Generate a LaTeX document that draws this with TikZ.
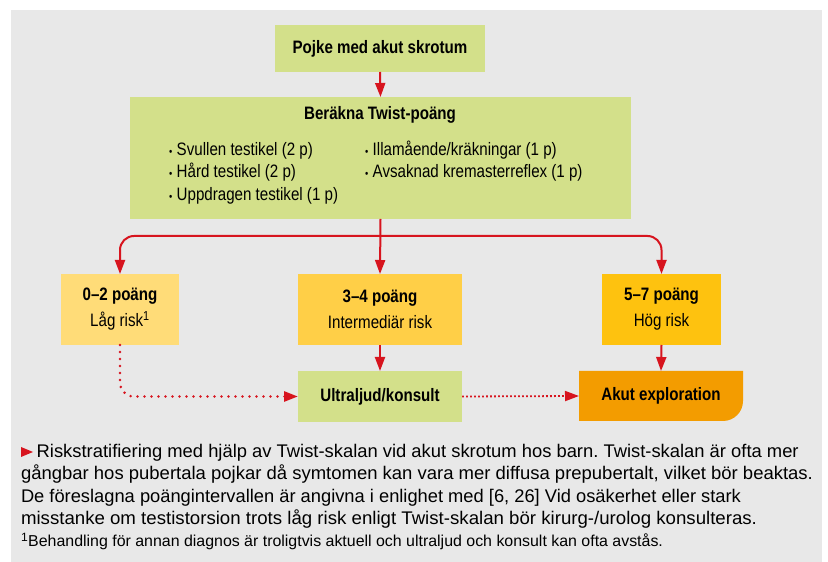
\documentclass[tikz,border=0pt]{standalone}
\usepackage{graphicx}
\usepackage{fontspec}
\setmainfont{Liberation Sans}[FakeStretch=0.84]
\newfontfamily\capfont{Liberation Sans}
\usetikzlibrary{arrows.meta,calc}
\definecolor{bg}{HTML}{E8E8E8}
\definecolor{grn}{HTML}{D3E08A}
\definecolor{yA}{HTML}{FFDC78}
\definecolor{yB}{HTML}{FFCF47}
\definecolor{yC}{HTML}{FEC20F}
\definecolor{org}{HTML}{F39C00}
\definecolor{rd}{HTML}{D7141E}
\newcommand{\bp}{\raisebox{0.5pt}{\fontsize{11}{11}\selectfont\textbullet}\hspace{4.5pt}}
\newcommand{\capline}[2]{\resizebox{#1}{\height}{\frenchspacing #2}}
\begin{document}
\begin{tikzpicture}[x=1pt,y=1pt,
  boxs/.style={inner sep=0pt, outer sep=0pt, align=center, font=\fontsize{18}{26}\selectfont},
  txt/.style={inner sep=0pt, outer sep=0pt, font=\fontsize{18}{22}\selectfont},
  captxt/.style={inner sep=0pt, outer sep=0pt, anchor=base west, font=\capfont\fontsize{18.3}{22}\selectfont},
  arr/.style={draw=rd, line width=2pt, -{Triangle[length=14pt,width=10pt]}},
  dotA/.style={draw=rd, line width=2.8pt, line cap=round, dash pattern=on 0pt off 7pt, -{Triangle[length=14pt,width=10pt]}},
  dotB/.style={draw=rd, line width=1.8pt, dash pattern=on 1.8pt off 2.2pt, -{Triangle[length=14pt,width=10pt]}}
]
\useasboundingbox (0,0) rectangle (828,562);
\fill[bg] (11,0) rectangle (822,552);

% boxes
\node[boxs, fill=grn, minimum width=210, minimum height=47] (pojke) at (380,513.5) {\bfseries Pojke med akut skrotum};
\node[boxs, fill=grn, minimum width=501, minimum height=122] (ber) at (380.5,404) {};
\node[txt, anchor=base] (bertitle) at (380,442) {\bfseries Beräkna Twist-poäng};
\node[txt, anchor=base west] (i1) at (169,406) {\bp Svullen testikel (2 p)};
\node[txt, anchor=base west] (i2) at (169,384) {\bp Hård testikel (2 p)};
\node[txt, anchor=base west] (i3) at (169,361) {\bp Uppdragen testikel (1 p)};
\node[txt, anchor=base west] (i4) at (365,406) {\bp Illamående/kräkningar (1 p)};
\node[txt, anchor=base west] (i5) at (365,384) {\bp Avsaknad kremasterreflex (1 p)};

\node[boxs, fill=yA, minimum width=118, minimum height=71] (low) at (120,252.5) {\bfseries 0–2 poäng\\Låg risk\textsuperscript{\fontsize{13}{13}\selectfont 1}};
\node[boxs, fill=yB, minimum width=164, minimum height=71] (mid) at (380,252.5) {\bfseries 3–4 poäng\\Intermediär risk};
\node[boxs, fill=yC, minimum width=119, minimum height=71] (high) at (661.5,252.5) {\bfseries 5–7 poäng\\Hög risk};
\node[boxs, fill=grn, minimum width=164, minimum height=51] (ultra) at (380,165.5) {\bfseries Ultraljud/konsult};
\fill[org] (579,191) -- (743,191) -- (743,161) arc[start angle=0,end angle=-90,radius=20] -- (579,141) -- cycle;
\node[boxs, minimum width=164, minimum height=50] (akut) at (661,166) {\bfseries Akut exploration};

% connectors
\draw[arr] (pojke.south) -- (ber.north);
\draw[arr] (ber.south) -- (mid.north);
\coordinate (br) at ($(ber.south)+(0,-17)$);
\draw[arr, rounded corners=14pt] (br) -| (low.north);
\draw[arr, rounded corners=14pt] (br) -| (high.north);
\draw[arr] (mid.south) -- (ultra.north);
\draw[arr] (high.south) -- (akut.north);
\draw[dotA, rounded corners=14pt] (low.south) |- (ultra.west);
\draw[dotB] (ultra.east) -- (akut.west);

% caption
\fill[rd] (21,115) -- (33,110) -- (21,105) -- cycle;
\node[captxt] (c1) at (36.7,104.5) {\capline{762pt}{Riskstratifiering med hjälp av Twist-skalan vid akut skrotum hos barn. Twist-skalan är ofta mer}};
\node[captxt] (c2) at (21,82) {\capline{792pt}{gångbar hos pubertala pojkar då symtomen kan vara mer diffusa prepubertalt, vilket bör beaktas.}};
\node[captxt] (c3) at (21,59.5) {\capline{720pt}{De föreslagna poängintervallen är angivna i enlighet med [6, 26] Vid osäkerhet eller stark}};
\node[captxt] (c4) at (21,37) {\capline{736pt}{misstanke om testistorsion trots låg risk enligt Twist-skalan bör kirurg-/urolog konsulteras.}};
\node[captxt, font=\capfont\fontsize{15.8}{18}\selectfont] (c5) at (21,15.5) {\capline{642pt}{\textsuperscript{\fontsize{12}{12}\selectfont 1}Behandling för annan diagnos är troligtvis aktuell och ultraljud och konsult kan ofta avstås.}};
\end{tikzpicture}
\end{document}
